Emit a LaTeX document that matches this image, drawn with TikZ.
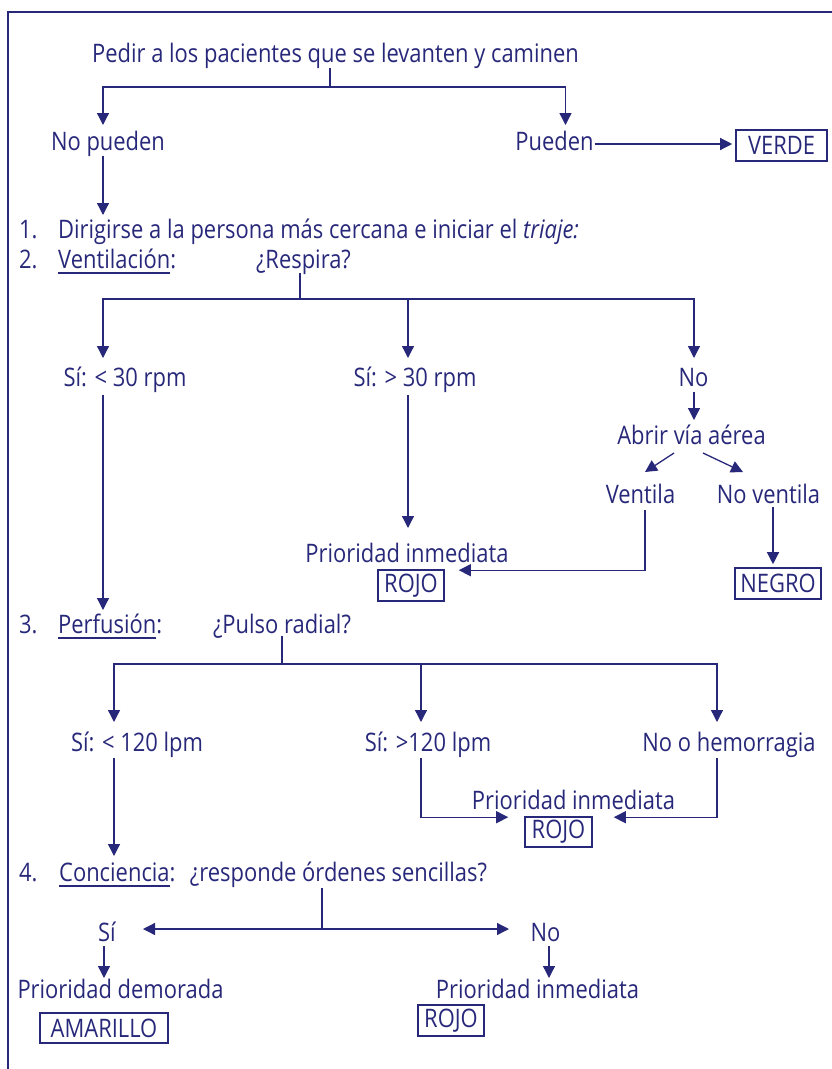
\documentclass[tikz,border=0pt]{standalone}
\usepackage{fontspec}
\setmainfont[FakeStretch=0.86]{Open Sans}
\usetikzlibrary{arrows.meta,calc}
\definecolor{triage}{RGB}{40,40,122}
\newlength\ulwd
\newcommand\ulword[1]{\settowidth\ulwd{#1}\rlap{\rule[-5.5pt]{\ulwd}{1.3pt}}#1}
\tikzset{
	lbl/.style={anchor=base,inner sep=3pt,font=\fontsize{25.5}{30}\selectfont},
	lblw/.style={lbl,anchor=base west},
	colourbox/.style={draw,line width=1.6pt,inner sep=0pt,minimum height=31pt,font=\fontsize{25.5}{30}\selectfont},
	arr/.style={line width=1.3pt,-{Triangle[length=12pt,width=12pt]}},
	link/.style={line width=1.3pt},
	frame/.style={line width=2.6pt,line cap=rect}
}
\begin{document}
\begin{tikzpicture}[x=1pt,y={(0pt,-1pt)},color=triage]
		\useasboundingbox (0,0) rectangle (832,1069);
		% walking patients
		\node[lbl] (title) at (335.5,62) {Pedir a los pacientes que se levanten y caminen};
		\node[lbl] (nopueden) at (108,150) {No pueden};
		\node[lbl] (pueden) at (554.5,150) {Pueden};
		\node[colourbox,minimum width=91pt] (verde) at (781.5,145.5) {VERDE};
		\coordinate (b0) at (330,87);
		\draw[link] ($(title.base -| b0)+(0,6)$) -- (b0);
		\draw[arr] (b0) -| ($(nopueden.base)+(-5,-25)$);
		\draw[arr] (b0) -| ($(pueden.base)+(11,-25)$);
		\coordinate (pv) at ($(pueden.base)+(40,-6)$);
		\draw[arr,shorten >=3pt] (pv) -- (pv -| verde.west);
		% step 1 and 2
		\node[lblw] (n1) at (16,238) {1.};
		\node[lblw] (s1) at (55,238) {Dirigirse a la persona más cercana e iniciar el \textit{triaje:}};
		\coordinate (anp) at ($(nopueden.base)+(-5,6)$);
		\draw[arr] (anp) -- ($(anp |- s1.base)+(0,-23)$);
		\node[lblw] (n2) at (16,268) {2.};
		\node[lblw] (vent) at (55,268) {\ulword{Ventilación}:};
		\node[lbl] (respira) at (303.5,268) {¿Respira?};
		\coordinate (b1) at (300,299);
		\draw[link] ($(respira.base -| b1)+(0,5)$) -- (b1);
		\node[lbl] (si30) at (125,386) {Sí: < 30 rpm};
		\node[lbl] (mas30) at (415,386) {Sí: > 30 rpm};
		\node[lbl] (no1) at (693.5,386) {No};
		\draw[arr] (b1) -| ($(si30.base)+(-22,-28)$);
		\draw[arr] (b1) -| ($(mas30.base)+(-7,-28)$);
		\draw[arr] (b1) -| ($(no1.base)+(0.5,-28)$);
		\node[lbl] (abrir) at (691.5,444) {Abrir vía aérea};
		\node[lbl] (ventila) at (640.5,503) {Ventila};
		\node[lbl] (noventila) at (768.5,503) {No ventila};
		\draw[arr] ($(no1.base)+(0.5,6)$) -- ($(abrir.base)+(2.5,-24)$);
		\draw[arr] ($(abrir.base)+(-17.5,9)$) -- ($(ventila.base)+(4.5,-31)$);
		\draw[arr] ($(abrir.base)+(11.5,9)$) -- ($(noventila.base)+(-25.5,-31)$);
		\node[lbl] (inm1) at (407,562) {Prioridad inmediata};
		\node[colourbox,minimum width=66pt] (rojo1) at (411,585.5) {ROJO};
		\node[colourbox,minimum width=86pt] (negro) at (778,583.5) {NEGRO};
		\draw[arr] ($(mas30.base)+(-7,9)$) -- ($(inm1.base)+(1,-34)$);
		\draw[arr] ($(ventila.base)+(4.5,7)$) |- ($(rojo1.north east)+(14,1)$);
		\coordinate (nv) at ($(noventila.base)+(4.5,4)$);
		\draw[arr] (nv) -- ($(nv |- negro.north)+(0,-3)$);
		% step 3
		\node[lblw] (n3) at (16,633) {3.};
		\node[lblw] (perf) at (55,633) {\ulword{Perfusión}:};
		\node[lbl] (pulso) at (282,633) {¿Pulso radial?};
		\coordinate (a30) at ($(si30.base)+(-22,9)$);
		\draw[arr] (a30) -- ($(a30 |- pulso.base)+(0,-23)$);
		\coordinate (b2) at (282,664);
		\draw[link] ($(pulso.base -| b2)+(0,3)$) -- (b2);
		\node[lbl] (si120) at (137,751) {Sí: < 120 lpm};
		\node[lbl] (mas120) at (428,751) {Sí: >120 lpm};
		\node[lbl] (nohem) at (729,751) {No o hemorragia};
		\draw[arr] (b2) -| ($(si120.base)+(-23,-29)$);
		\draw[arr] (b2) -| ($(mas120.base)+(-7,-29)$);
		\draw[arr] (b2) -| ($(nohem.base)+(-12,-29)$);
		\node[lbl] (inm2) at (573.5,809) {Prioridad inmediata};
		\node[colourbox,minimum width=67pt,minimum height=30pt] (rojo2) at (558.5,832) {ROJO};
		\draw[arr] ($(mas120.base)+(-7,7)$) |- ($(rojo2.north west)+(-16,1)$);
		\draw[arr] ($(nohem.base)+(-12,7)$) |- ($(rojo2.north east)+(21,1)$);
		% step 4
		\node[lblw] (n4) at (16,881) {4.};
		\node[lblw] (conc) at (56,881) {\ulword{Conciencia}:};
		\node[lbl] (resp) at (338.5,881) {¿responde órdenes sencillas?};
		\coordinate (a120) at ($(si120.base)+(-23,7)$);
		\draw[arr] (a120) -- ($(a120 |- resp.base)+(0,-25)$);
		\coordinate (b3) at (322,929);
		\draw[link] ($(resp.base -| b3)+(0,7)$) -- (b3);
		\node[lbl] (si) at (107,941) {Sí};
		\node[lbl] (no2) at (545.5,941) {No};
		\draw[arr] (b3) -- ($(b3 -| si.base)+(36,0)$);
		\draw[arr] (b3) -- ($(b3 -| no2.base)+(-36.5,0)$);
		\node[lbl] (demorada) at (120.5,998) {Prioridad demorada};
		\node[lbl] (inm3) at (537.5,998) {Prioridad inmediata};
		\node[colourbox,minimum width=128pt,minimum height=30pt] (amarillo) at (104,1028) {AMARILLO};
		\node[colourbox,minimum width=66pt] (rojo3) at (451,1020.5) {ROJO};
		\coordinate (asi) at ($(si.base)+(-3,5)$);
		\coordinate (ano) at ($(no2.base)+(3.5,5)$);
		\draw[arr] (asi) -- ($(asi |- demorada.base)+(0,-20)$);
		\draw[arr] (ano) -- ($(ano |- inm3.base)+(0,-20)$);
		% frame
		\draw[frame] (8,1075) -- (8,12) -- (840,12);
\end{tikzpicture}
\end{document}
